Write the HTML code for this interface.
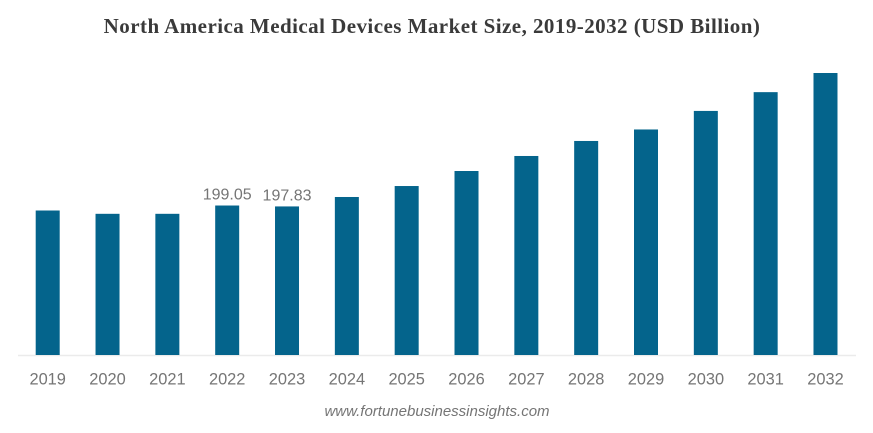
<!DOCTYPE html>
<html lang="en">
<head>
<meta charset="utf-8">
<title>North America Medical Devices Market Size</title>
<style>
html,body{margin:0;padding:0;background:#fff;width:873px;height:433px;overflow:hidden}
svg{display:block;filter:blur(0.35px)}
text{font-family:"Liberation Sans",sans-serif;fill:#757575}
</style>
</head>
<body>
<svg id="chart" width="873" height="433" viewBox="0 0 873 433" xmlns="http://www.w3.org/2000/svg">
<text x="432" y="33" text-anchor="middle" style="font-family:'Liberation Serif',serif;font-size:21px;font-weight:bold;letter-spacing:0.45px;fill:#3a3a3a">North America Medical Devices Market Size, 2019-2032 (USD Billion)</text>
<line x1="18" x2="856" y1="355.5" y2="355.5" stroke="#ebebeb" stroke-width="1.5"/>
<g id="bars"></g>
<g id="labels"></g>
<g id="values"></g>
<text x="437" y="416" text-anchor="middle" style="font-size:15px;font-style:italic">www.fortunebusinessinsights.com</text>
</svg>
<script>
const categories = ["2019","2020","2021","2022","2023","2024","2025","2026","2027","2028","2029","2030","2031","2032"];
const seriesValues = [192.4,188,188,199.05,197.83,210.4,225,245,265,285,300.3,325,350,375.5];
const printedValues = [null,null,null,"199.05","197.83",null,null,null,null,null,null,null,null,null];

const NS = "http://www.w3.org/2000/svg";
const baseY = 355;
const pxPerUnit = 0.751;
const firstX = 47.7;
const stepX = 59.83;
const barW = 24;
function xScale(i){ return firstX + stepX * i; }
function yScale(v){ return baseY - v * pxPerUnit; }

const barsG = document.getElementById("bars");
const labelsG = document.getElementById("labels");
const valuesG = document.getElementById("values");

categories.forEach(function(cat, i){
  const v = seriesValues[i];
  const cx = xScale(i);
  const top = yScale(v);

  const r = document.createElementNS(NS, "rect");
  r.setAttribute("x", cx - barW / 2);
  r.setAttribute("y", top);
  r.setAttribute("width", barW);
  r.setAttribute("height", baseY - top);
  r.setAttribute("fill", "#04648c");
  
  
  barsG.appendChild(r);

  const t = document.createElementNS(NS, "text");
  t.setAttribute("x", cx);
  t.setAttribute("y", 384.5);
  t.setAttribute("text-anchor", "middle");
  t.setAttribute("font-size", "16.4");
  
  
  t.textContent = cat;
  labelsG.appendChild(t);

  if (printedValues[i]) {
    const l = document.createElementNS(NS, "text");
    l.setAttribute("x", cx);
    l.setAttribute("y", top - 6);
    l.setAttribute("text-anchor", "middle");
    l.setAttribute("font-size", "16");
    
    
    l.textContent = printedValues[i];
    valuesG.appendChild(l);
  }
});
</script>
</body>
</html>
